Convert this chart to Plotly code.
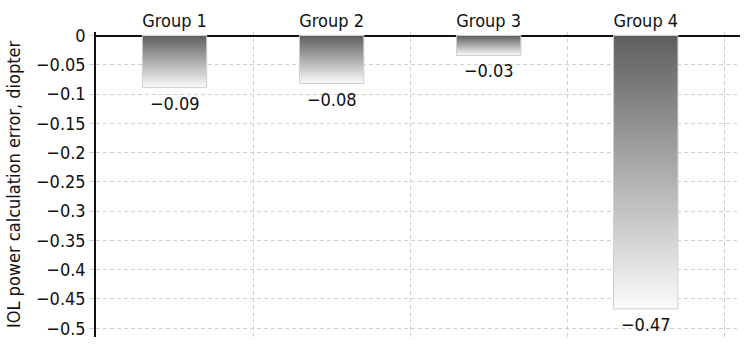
import plotly.graph_objects as go

groups = ["Group 1", "Group 2", "Group 3", "Group 4"]
errors = [-0.089, -0.082, -0.034, -0.467]
ytick_vals = [0, -0.05, -0.1, -0.15, -0.2, -0.25, -0.3, -0.35, -0.4, -0.45, -0.5]

FONT = "DejaVu Sans Condensed, Liberation Sans, sans-serif"
FS = 18
bar_w = 0.41

fig = go.Figure()
for i, v in enumerate(errors):
    x0, x1 = i - bar_w / 2, i + bar_w / 2
    fig.add_trace(go.Scatter(
        x=[x0, x1, x1, x0, x0], y=[0, 0, v, v, 0],
        mode="lines", fill="toself",
        line=dict(color="#cfcfcf", width=1),
        fillgradient=dict(type="vertical",
                          colorscale=[[0, "#fbfbfb"], [1, "#5e5e5e"]]),
        hoverinfo="skip", showlegend=False))

def fmt(v):
    return f"{v:.2f}".replace("-", "\u2212")

for i, v in enumerate(errors):
    fig.add_annotation(x=i, y=v, text=fmt(v), showarrow=False,
                       xanchor="center", yanchor="top", yshift=-3,
                       font=dict(family=FONT, size=FS, color="#111"))

fig.add_annotation(xref="paper", yref="paper", x=-0.128, y=0.5,
                   text="IOL power calculation error, diopter", textangle=-90,
                   showarrow=False, xanchor="center", yanchor="middle",
                   font=dict(family=FONT, size=FS, color="#111"))

def tfmt(v):
    if v == 0:
        return "0"
    s = f"{v:.2f}".rstrip("0")
    return s.replace("-", "\u2212")

fig.update_layout(
    width=750, height=351,
    margin=dict(l=96, r=10, t=32, b=14, autoexpand=False),
    plot_bgcolor="white", paper_bgcolor="white",
    font=dict(family=FONT, size=FS, color="#111"),
    xaxis=dict(
        range=[-0.5, 3.6], side="top", automargin=False,
        tickvals=list(range(len(groups))), ticktext=groups,
        showgrid=False, zeroline=False, ticks="",
        minor=dict(showgrid=True, tick0=0.5, dtick=1, gridcolor="#d0d0d0",
                   griddash="4px,3px", gridwidth=1),
        tickfont=dict(size=FS),
    ),
    yaxis=dict(
        range=[-0.515, 0.006], automargin=False,
        tickvals=ytick_vals, ticktext=[tfmt(v) for v in ytick_vals],
        showgrid=True, gridcolor="#d0d0d0", griddash="4px,3px", gridwidth=1,
        zeroline=True, zerolinecolor="#111", zerolinewidth=2,
        showline=True, linecolor="#111", linewidth=1.5,
        ticks="outside", ticklen=5, tickcolor="#d0d0d0",
        tickfont=dict(size=FS),
    ),
)

fig.write_html("out.html")
